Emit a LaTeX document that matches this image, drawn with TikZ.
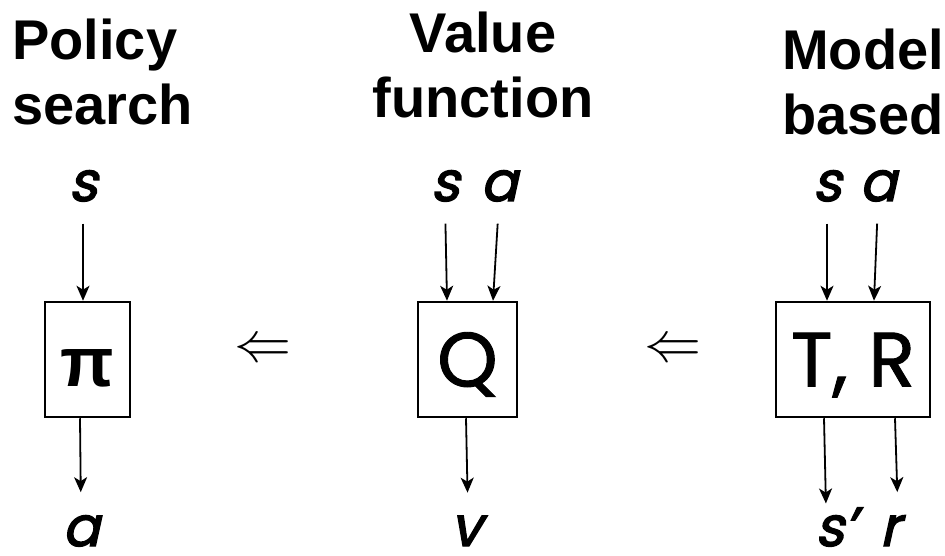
\RequirePackage{fix-cm}
\documentclass[tikz,border=0pt]{standalone}
\usepackage{fontspec}
\setmainfont{Liberation Sans}
\newfontfamily\geofont{Poppins}[FakeBold=1.2]
\newfontfamily\varfont{Poppins}[FakeSlant=0.22, FakeBold=2.5]
\usepackage{tikz}
\usetikzlibrary{arrows.meta}

\begin{document}
\begin{tikzpicture}[x=1pt, y=-1pt,
  heading/.style={font=\fontsize{56}{65}\selectfont\bfseries, inner sep=0},
  var/.style={font=\varfont\fontsize{55}{55}\selectfont, inner sep=0, anchor=base},
  block/.style={draw, line width=2.5pt, inner sep=0, minimum height=115pt,
    text height=54pt, text depth=0pt, font=\geofont\fontsize{77}{77}\selectfont},
  flow/.style={-{Stealth[length=15pt, width=13pt, inset=4pt]}, line width=1.8pt},
  feed/.style={flow, shorten <=22pt},
  yield/.style={flow, shorten >=23pt},
  implies/.style={font=\fontsize{57}{57}\selectfont, inner sep=0}]
  \useasboundingbox (0,0) rectangle (945,556);

  % headings
  \node[heading, align=left, anchor=base west] (ptitle) at (12,125) {Policy\\search};
  \node[heading, align=center, anchor=base] (vtitle) at (483,118) {Value\\function};
  \node[heading, align=left, anchor=base west] (mtitle) at (782,135) {Model\\based};

  % the three blocks
  \node[block, minimum width=85pt, font=\fontsize{70}{70}\selectfont\bfseries] (pi) at (87.5,359.5) {π};
  \node[block, minimum width=99pt] (q) at (467.5,359.5) {Q};
  \node[block, minimum width=154pt] (m) at (853,359.5) {T, R};

  \node[implies] (i1) at (263,351) {$\Leftarrow$};
  \node[implies] (i2) at (673,351) {$\Leftarrow$};

  % inputs
  \node[var] (ps) at (83,201) {s};
  \node[var] (qs) at (445,201) {s};
  \node[var] (qa) at (499,201) {a};
  \node[var] (ms) at (827,201) {s};
  \node[var] (ma) at (878,201) {a};

  % outputs
  \node[var] (pa) at (81,546) {a};
  \node[var] (qv) at (466,546) {v};
  \node[var, anchor=base west] (ms2) at (815,546) {s’};
  \node[var] (mr) at (890,546) {r};

  \draw[feed] (ps.south) -- ([xshift=-4.5pt]pi.north);
  \draw[feed] (qs.south) -- ([xshift=-20.5pt]q.north);
  \draw[feed] (qa.south) -- ([xshift=25.5pt]q.north);
  \draw[feed] (ms.south) -- ([xshift=-26pt]m.north);
  \draw[feed] (ma.south) -- ([xshift=21pt]m.north);

  \draw[yield] ([xshift=-7.5pt]pi.south) -- (pa.north);
  \draw[yield] ([xshift=-1.5pt]q.south) -- ([xshift=2pt]qv.north);
  \draw[flow, shorten >=4pt] ([xshift=-29pt]m.south) -- ([xshift=11pt]ms2.north west);
  \draw[yield] ([xshift=42pt]m.south) -- ([xshift=8pt]mr.north);
\end{tikzpicture}
\end{document}
